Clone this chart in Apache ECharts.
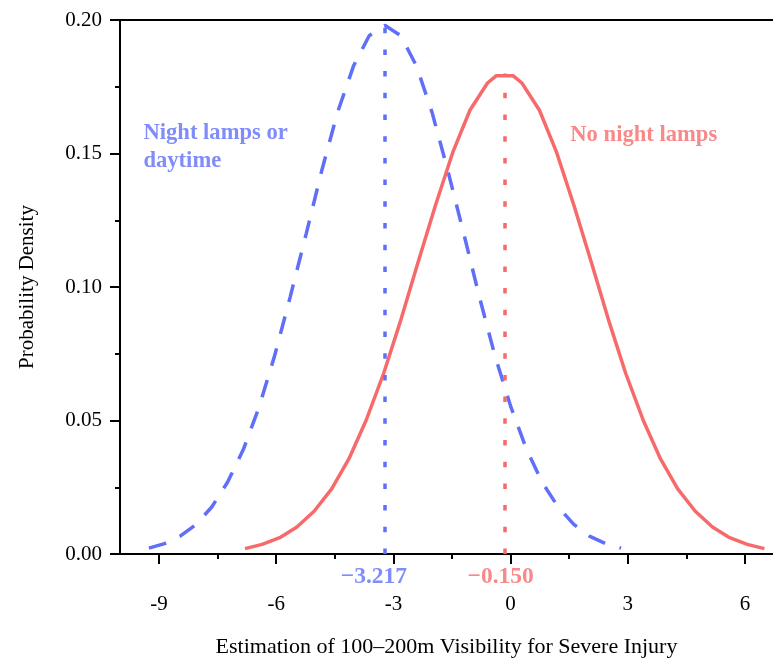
<!DOCTYPE html>
<html><head><meta charset="utf-8">
<script src="https://cdn.jsdelivr.net/npm/echarts@6/dist/echarts.min.js"></script>
<style>html,body{margin:0;padding:0;background:#fff}#c{width:773px;height:660px}</style>
</head><body><div id="c"></div>
<script>
// Night lamps or daytime (blue, dashed)
const blueX = [-9.26,-8.86,-8.46,-8.05,-7.65,-7.25,-6.84,-6.44,-6.04,-5.64,-5.23,-4.83,-4.43,-4.02,-3.62,-3.22,-2.81,-2.41,-2.01,-1.61,-1.20,-0.80,-0.40,0.01,0.41,0.81,1.22,1.62,2.02,2.43,2.83];
const blueY = [0.0022,0.0039,0.0067,0.0111,0.0176,0.0268,0.0392,0.0550,0.0743,0.0964,0.1201,0.1438,0.1654,0.1828,0.1941,0.1980,0.1941,0.1828,0.1654,0.1438,0.1201,0.0964,0.0743,0.0550,0.0392,0.0268,0.0176,0.0111,0.0067,0.0039,0.0022];
// No night lamps (red, solid)
const redX = [-6.80,-6.36,-5.91,-5.47,-5.03,-4.58,-4.14,-3.70,-3.25,-2.81,-2.37,-1.92,-1.48,-1.04,-0.59,-0.37,0.07,0.29,0.74,1.18,1.62,2.07,2.51,2.95,3.40,3.84,4.28,4.73,5.17,5.61,6.06,6.50];
const redY = [0.0020,0.0036,0.0061,0.0101,0.0160,0.0244,0.0356,0.0500,0.0676,0.0876,0.1092,0.1307,0.1504,0.1662,0.1764,0.1791,0.1791,0.1764,0.1662,0.1504,0.1307,0.1092,0.0876,0.0676,0.0500,0.0356,0.0244,0.0160,0.0101,0.0061,0.0036,0.0020];
// Means and peak densities
const blueMean = -3.217, bluePeak = 0.198;
const redMean = -0.150, redPeak = 0.180;
const meanLabels = ['\u22123.217', '\u22120.150'];
const seriesNames = ['Night lamps or\ndaytime', 'No night lamps'];
// Tick labels
const xTicks = [-9, -6, -3, 0, 3, 6];
const xMinorTicks = [-7.5, -4.5, -1.5, 1.5, 4.5];
const xTitle = 'Estimation of 100\u2013200m Visibility for Severe Injury';
const yTitle = 'Probability Density';

const FONT = '"Liberation Serif","Times New Roman",serif';
const BLUE = '#5F6FF7', RED = '#F76A6C';
const chart = echarts.init(document.getElementById('c'));
const axisBase = {type:'value', min:-10, max:6.72, splitLine:{show:false}};
const option = {
  animation:false,
  backgroundColor:'#fff',
  grid:{left:120, right:0, top:20, bottom:106, outerBoundsMode:'none', containLabel:false},
  xAxis:[
    Object.assign({}, axisBase, {
      position:'bottom',
      axisLine:{show:true, onZero:false, lineStyle:{color:'#000', width:2}},
      axisTick:{show:true, customValues:xTicks, length:10, lineStyle:{color:'#000', width:2}},
      axisLabel:{customValues:xTicks, margin:40, fontSize:21, fontFamily:FONT, color:'#000'},
      name:xTitle, nameLocation:'middle', nameGap:82,
      nameTextStyle:{fontSize:22, fontFamily:FONT, color:'#000'}
    }),
    Object.assign({}, axisBase, {
      position:'bottom',
      axisLine:{show:false, onZero:false},
      axisTick:{show:true, customValues:xMinorTicks, length:5, lineStyle:{color:'#000', width:2}},
      axisLabel:{show:false}
    }),
    Object.assign({}, axisBase, {
      position:'top',
      axisLine:{show:true, onZero:false, lineStyle:{color:'#000', width:2}},
      axisTick:{show:false},
      axisLabel:{show:false}
    })
  ],
  yAxis:{
    type:'value', min:0, max:0.2, interval:0.05, position:'left',
    axisLine:{show:true, onZero:false, lineStyle:{color:'#000', width:2}},
    axisTick:{show:true, length:10, lineStyle:{color:'#000', width:2}},
    minorTick:{show:true, splitNumber:2, length:5, lineStyle:{color:'#000', width:2}},
    axisLabel:{formatter:v=>v.toFixed(2), margin:18, fontSize:21, fontFamily:FONT, color:'#000'},
    splitLine:{show:false},
    name:yTitle, nameLocation:'middle', nameGap:82, nameRotate:90,
    nameTextStyle:{fontSize:21, fontFamily:FONT, color:'#000'}
  },
  series:[
    {
      type:'line', xAxisIndex:0, showSymbol:false, symbol:'none',
      data: blueX.map((x,i)=>[x, blueY[i]]),
      lineStyle:{color:BLUE, width:3.5, type:[18,15], cap:'butt'},
      markLine:{silent:true, symbol:'none', label:{show:false},
        lineStyle:{color:BLUE, width:3.5, type:[5.5,16.2]},
        data:[[{coord:[blueMean,0]},{coord:[blueMean,bluePeak]}]]}
    },
    {
      type:'line', xAxisIndex:0, showSymbol:false, symbol:'none',
      data: redX.map((x,i)=>[x, redY[i]]),
      lineStyle:{color:RED, width:3.5},
      markLine:{silent:true, symbol:'none', label:{show:false},
        lineStyle:{color:RED, width:3.5, type:[5.5,16.2]},
        data:[[{coord:[redMean,0]},{coord:[redMean,redPeak]}]]}
    },
    {
      type:'scatter', xAxisIndex:0, symbolSize:0, clip:false, silent:true,
      data:[
        {value:[blueMean,0], label:{show:true, formatter:meanLabels[0], color:BLUE, offset:[-11,23]}},
        {value:[redMean,0], label:{show:true, formatter:meanLabels[1], color:RED, offset:[-4,23]}}
      ],
      label:{position:'inside', fontSize:23.5, fontWeight:'bold', fontFamily:FONT, align:'center', verticalAlign:'middle'}
    },
    {
      type:'scatter', xAxisIndex:0, symbolSize:0, clip:false, silent:true,
      data:[
        {value:[-9.40,0.1524], label:{show:true, formatter:seriesNames[0], color:BLUE}},
        {value:[1.53,0.157], label:{show:true, formatter:seriesNames[1], color:RED}}
      ],
      label:{position:'right', distance:0, fontSize:22.6, lineHeight:28, fontWeight:'bold', fontFamily:FONT, align:'left', verticalAlign:'middle'}
    }
  ]
};
chart.setOption(option);
</script></body></html>
